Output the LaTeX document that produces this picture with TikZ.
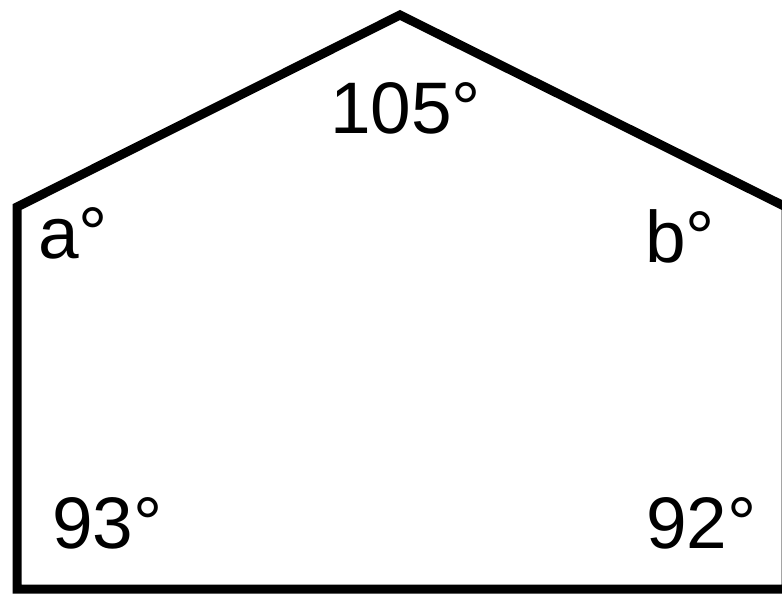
\documentclass[tikz,border=0pt]{standalone}
\usepackage{fontspec}
\setmainfont{Liberation Sans}
\usetikzlibrary{positioning}
\tikzset{
  edge/.style   = {draw=black, line width=9pt, line join=miter},
  angle/.style  = {anchor=base west, inner sep=0pt, font=\fontsize{73}{80}\selectfont},
}
\begin{document}
\begin{tikzpicture}[x=1pt, y=-1pt]
  % frame of the picture, the right side is cut off
  \useasboundingbox (0,0) rectangle (782,595);
  \clip (0,0) rectangle (782,595);

  % corners of the pentagon
  \coordinate (apex) at (400,15);
  \coordinate (ul) at (17,207);
  \coordinate (ll) at (17,589);
  \coordinate (lr) at (786,589);
  \coordinate (ur) at (786,207);
  \draw[edge] (apex) -- (ul) -- (ll) -- (lr) -- (ur) -- cycle;

  % angles
  \node[angle] (top) at (330,133) {105°};
  \node[angle] (a) at (38,258) {a°};
  \node[angle] (b) at (645,262) {b°};
  \node[angle] (c) at (52,548) {93°};
  \node[angle] (d) at (646,548) {92°};
\end{tikzpicture}
\end{document}
